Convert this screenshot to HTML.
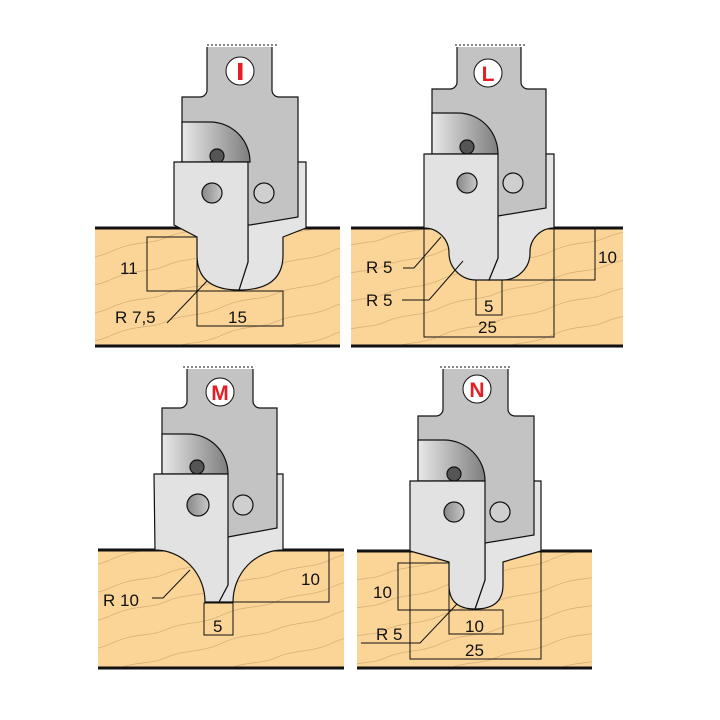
<!DOCTYPE html>
<html><head><meta charset="utf-8"><style>
html,body{margin:0;padding:0;background:#fff;}
svg{display:block}
text{font-family:"Liberation Sans",sans-serif;font-size:17px;fill:#111}
</style></head><body>
<svg width="720" height="720" viewBox="0 0 720 720" xmlns="http://www.w3.org/2000/svg">
<defs>
<pattern id="grain" patternUnits="userSpaceOnUse" width="110" height="28">
<rect width="110" height="28" fill="#fbd597"/>
<path d="M0,28 C25,16 40,21 55,14 C75,5 90,9 110,0" fill="none" stroke="#d8b07a" stroke-width="0.8"/>
</pattern>
<linearGradient id="gp" x1="0" x2="1" y1="0" y2="0"><stop offset="0" stop-color="#e8e8e8"/><stop offset="1" stop-color="#7e7e7e"/></linearGradient>
<linearGradient id="gc" x1="0" x2="1" y1="0" y2="0"><stop offset="0" stop-color="#888"/><stop offset="1" stop-color="#c8c8c8"/></linearGradient>
</defs>
<g stroke="#111" stroke-width="1.2">

<!-- ===== I ===== -->
<rect x="95" y="228" width="245" height="118" fill="url(#grain)" stroke="none"/>
<line x1="95" y1="228" x2="340" y2="228" stroke-width="3"/>
<line x1="95" y1="346" x2="340" y2="346" stroke-width="3"/>
<line x1="207" y1="45" x2="279" y2="45" stroke-dasharray="2,2" stroke-width="1"/>
<path d="M239,290 Q283,290 283,255 V237 L306,228 V162 H248 V262 Z" fill="#e4e4e4"/>
<path d="M207,47 V90 A7,7 0 0 1 200,97 H182 V225 H250 L298,217 V97 H279 A7,7 0 0 1 272,90 V47" fill="#c3c3c3"/>
<path d="M182,122 H210 A40,40 0 0 1 250,162 H182 Z" fill="url(#gp)"/>
<circle cx="217" cy="156" r="7" fill="#555"/>
<path d="M174,162 H248 V262 L239,290 Q197,290 197,255 V237 L174,225 Z" fill="#e2e2e2"/>
<circle cx="212" cy="193" r="10" fill="url(#gc)"/>
<circle cx="264" cy="193" r="10" fill="#cfcfcf"/>
<circle cx="240" cy="71" r="14" fill="#fff" stroke-width="1"/>
<rect x="238" y="63" width="4.5" height="17" fill="#e31e24" stroke="none"/>
<g fill="none" stroke-width="1">
<rect x="147" y="237" width="50" height="54"/>
<rect x="197" y="291" width="86" height="35"/>
<polyline points="207,281 167,323"/>
</g>

<!-- ===== L ===== -->
<rect x="351" y="228" width="272" height="118" fill="url(#grain)" stroke="none"/>
<line x1="351" y1="228" x2="623" y2="228" stroke-width="3"/>
<line x1="351" y1="346" x2="623" y2="346" stroke-width="3"/>
<line x1="455" y1="45" x2="527" y2="45" stroke-dasharray="2,2" stroke-width="1"/>
<path d="M489,280 H503 A27,27 0 0 0 530,253 A24,24 0 0 1 554,228 V154 H498 V258 Z" fill="#e4e4e4"/>
<path d="M457,47 V82 A7,7 0 0 1 450,89 H432 V216 H498 L546,208 V89 H528 A7,7 0 0 1 521,82 V47" fill="#c3c3c3"/>
<path d="M432,113 H458 A40,41 0 0 1 498,154 H432 Z" fill="url(#gp)"/>
<circle cx="467" cy="147" r="7" fill="#555"/>
<path d="M424,154 H498 V258 L489,280 H476 A27,27 0 0 1 449,253 A25,25 0 0 0 424,228 Z" fill="#e2e2e2"/>
<circle cx="467" cy="183" r="10" fill="url(#gc)"/>
<circle cx="513" cy="183" r="10" fill="#cfcfcf"/>
<circle cx="488" cy="73" r="14" fill="#fff" stroke-width="1"/>
<g fill="none" stroke-width="1">
<polyline points="424,228 424,337 554,337 554,228"/>
<rect x="476" y="280" width="26" height="35"/>
<polyline points="503,280 595,280 595,228"/>
<polyline points="441,237 414,268 403,268"/>
<polyline points="463,261 429,300 402,300"/>
</g>

<!-- ===== M ===== -->
<rect x="98" y="550" width="246" height="118" fill="url(#grain)" stroke="none"/>
<line x1="98" y1="550" x2="344" y2="550" stroke-width="3"/>
<line x1="98" y1="668" x2="344" y2="668" stroke-width="3"/>
<line x1="183" y1="367" x2="255" y2="367" stroke-dasharray="2,2" stroke-width="1"/>
<path d="M219,602 H233 A50,52 0 0 1 283,550 V474 H228 V585 Z" fill="#e4e4e4"/>
<path d="M187,369 V401 A7,7 0 0 1 180,408 H162 V537 H228 L277,528 V408 H260 A7,7 0 0 1 253,401 V369" fill="#c3c3c3"/>
<path d="M162,434 H188 A40,40 0 0 1 228,474 H162 Z" fill="url(#gp)"/>
<circle cx="197" cy="467" r="7" fill="#555"/>
<path d="M154,474 H228 V585 L219,602 H205 A50,52 0 0 0 155,550 Z" fill="#e2e2e2"/>
<circle cx="198" cy="505" r="11" fill="url(#gc)"/>
<circle cx="243" cy="505" r="10" fill="#cfcfcf"/>
<circle cx="220" cy="392" r="14" fill="#fff" stroke-width="1"/>
<g fill="none" stroke-width="1">
<rect x="204" y="603" width="29" height="32"/>
<polyline points="233,602 329,602 329,550"/>
<polyline points="190,570 163,598 152,598"/>
</g>

<!-- ===== N ===== -->
<rect x="357" y="551" width="235" height="117" fill="url(#grain)" stroke="none"/>
<line x1="357" y1="551" x2="592" y2="551" stroke-width="3"/>
<line x1="357" y1="668" x2="592" y2="668" stroke-width="3"/>
<line x1="440" y1="367" x2="512" y2="367" stroke-dasharray="2,2" stroke-width="1"/>
<path d="M475,609 Q503,609 503,585 V562 L541,551 V481 H485 V580 Z" fill="#e4e4e4"/>
<path d="M443,369 V409 A7,7 0 0 1 436,416 H418 V543 H485 L534,535 V416 H515 A7,7 0 0 1 508,409 V369" fill="#c3c3c3"/>
<path d="M418,440 H444 A41,41 0 0 1 485,481 H418 Z" fill="url(#gp)"/>
<circle cx="454" cy="474" r="7" fill="#555"/>
<path d="M410,481 H485 V580 L475,609 Q449,609 449,585 V562 L410,551 Z" fill="#e2e2e2"/>
<circle cx="454" cy="512" r="10" fill="url(#gc)"/>
<circle cx="500" cy="512" r="10" fill="#cfcfcf"/>
<circle cx="477" cy="389" r="14" fill="#fff" stroke-width="1"/>
<g fill="none" stroke-width="1">
<rect x="398" y="563" width="51" height="47"/>
<rect x="449" y="610" width="54" height="24"/>
<polyline points="410,551 410,659 541,659 541,551"/>
<polyline points="457,604 420,643 361,643"/>
</g>
</g>

<g>
<text x="120" y="274">11</text>
<text x="228" y="323">15</text>
<text x="115" y="323">R 7,5</text>
<text x="366" y="273">R 5</text>
<text x="366" y="306">R 5</text>
<text x="598" y="263">10</text>
<text x="484" y="312">5</text>
<text x="478" y="333">25</text>
<text x="103" y="606">R 10</text>
<text x="301" y="585">10</text>
<text x="213" y="632">5</text>
<text x="373" y="598">10</text>
<text x="465" y="632">10</text>
<text x="465" y="656">25</text>
<text x="376" y="640">R 5</text>
</g>
<text x="488" y="81" text-anchor="middle" style="fill:#e31e24;font-size:21px;font-weight:bold">L</text>
<text x="220" y="400" text-anchor="middle" style="fill:#e31e24;font-size:21px;font-weight:bold">M</text>
<text x="477" y="397" text-anchor="middle" style="fill:#e31e24;font-size:21px;font-weight:bold">N</text>
</svg>
</body></html>
